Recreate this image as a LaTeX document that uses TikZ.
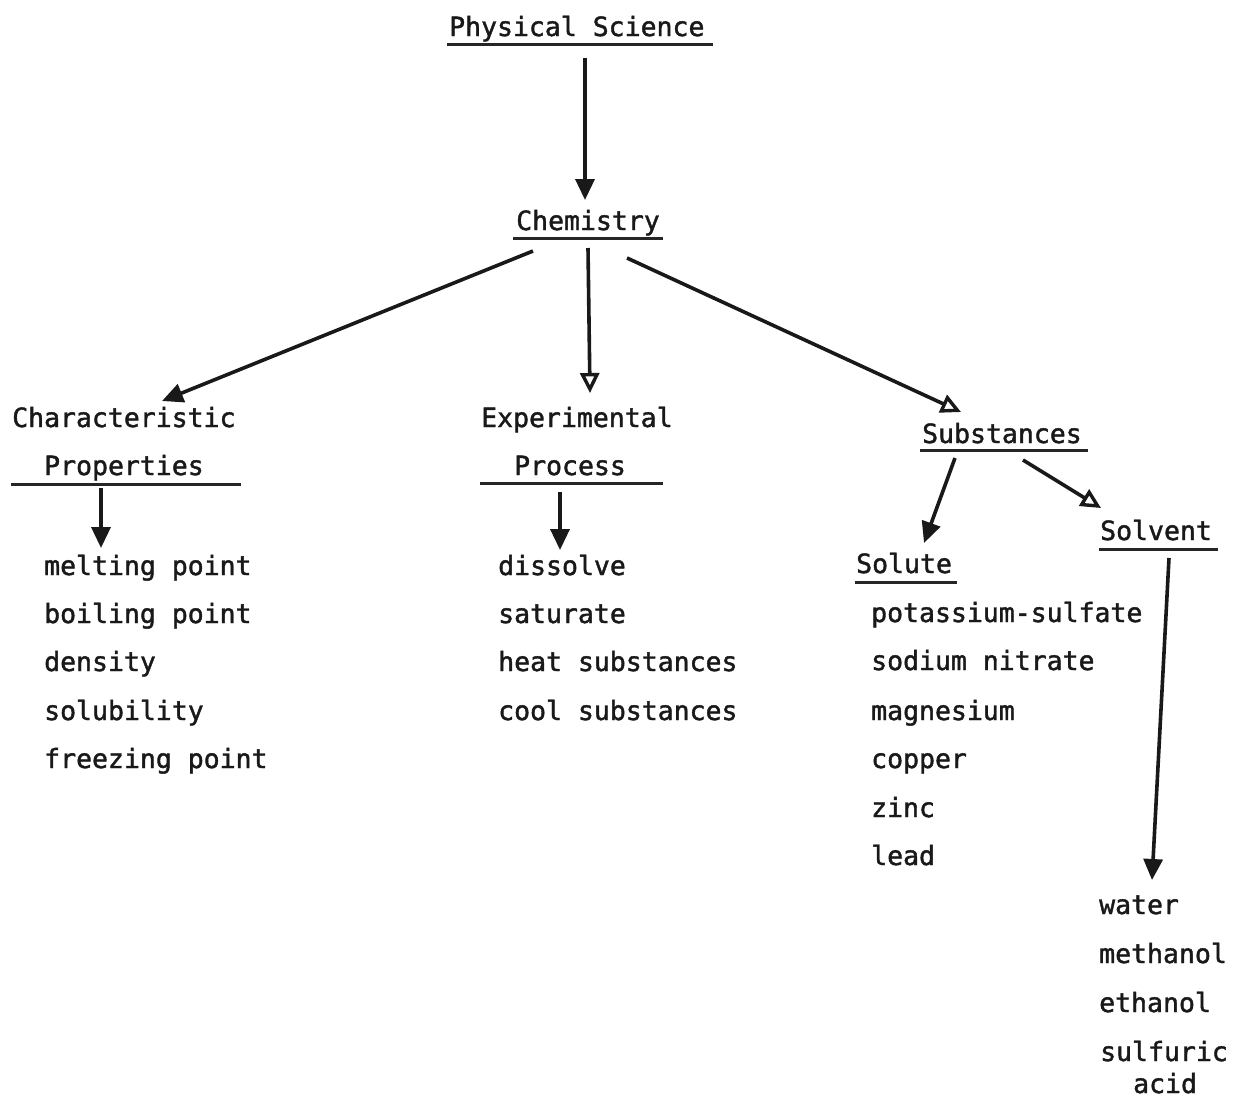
\documentclass[tikz,border=0pt]{standalone}
\usepackage{fontspec}
\newfontfamily\typewriter[FakeBold=1.5]{DejaVu Sans Mono}
\usetikzlibrary{arrows.meta}
\begin{document}
\begin{tikzpicture}[x=1pt,y=-1pt,
  lbl/.style={anchor=base west, inner sep=0pt, text=black!90,
    font=\typewriter\fontsize{26.5}{30}\selectfont},
  uline/.style={line width=3pt, black!85},
  link/.style={line width=3.6pt, black!90, -{Triangle[length=21pt,width=19pt]}},
  hollow/.style={line width=3.6pt, black!90, -{Triangle[open,length=20pt,width=19pt,line width=3.4pt]}}]
\useasboundingbox (0,0) rectangle (1235,1098);

% headings
\node[lbl] (ps)    at (449,36)  {Physical Science};
\node[lbl] (chem)  at (516,230) {Chemistry};
\node[lbl] (char1) at (12,427)  {Characteristic};
\node[lbl] (char2) at (44,475)  {Properties};
\node[lbl] (exp1)  at (481,427) {Experimental};
\node[lbl] (exp2)  at (514,475) {Process};
\node[lbl] (subs)  at (922,443) {Substances};
\node[lbl] (solu)  at (856,573) {Solute};
\node[lbl] (solv)  at (1100,540) {Solvent};

% underlines
\draw[uline] (447,44)  -- (713,44);
\draw[uline] (513,238) -- (663,238);
\draw[uline] (11,484)  -- (241,484);
\draw[uline] (480,483) -- (663,483);
\draw[uline] (920,450) -- (1088,450);
\draw[uline] (855,582) -- (957,582);
\draw[uline] (1099,549) -- (1218,549);

% characteristic properties
\node[lbl] (cp1) at (44,575) {melting point};
\node[lbl] (cp2) at (44,623) {boiling point};
\node[lbl] (cp3) at (44,671) {density};
\node[lbl] (cp4) at (44,720) {solubility};
\node[lbl] (cp5) at (44,768) {freezing point};

% experimental process
\node[lbl] (ep1) at (498,575) {dissolve};
\node[lbl] (ep2) at (498,623) {saturate};
\node[lbl] (ep3) at (498,671) {heat substances};
\node[lbl] (ep4) at (498,720) {cool substances};

% solutes
\node[lbl] (su1) at (871,622) {potassium-sulfate};
\node[lbl] (su2) at (871,670) {sodium nitrate};
\node[lbl] (su3) at (871,720) {magnesium};
\node[lbl] (su4) at (871,768) {copper};
\node[lbl] (su5) at (871,817) {zinc};
\node[lbl] (su6) at (871,865) {lead};

% solvents
\node[lbl] (sv1) at (1099,914)  {water};
\node[lbl] (sv2) at (1099,963)  {methanol};
\node[lbl] (sv3) at (1099,1012) {ethanol};
\node[lbl] (sv4) at (1100,1061) {sulfuric};
\node[lbl] (sv5) at (1133,1093) {acid};

% connector end points
\coordinate (ps-out)    at (585,58);
\coordinate (chem-in)   at (585,200);
\coordinate (chem-l)    at (533,251);
\coordinate (chem-m)    at (588,248);
\coordinate (chem-r)    at (627,258);
\coordinate (char-in)   at (162,401);
\coordinate (exp-in)    at (590,393);
\coordinate (subs-in)   at (961,412);
\coordinate (char-out)  at (101,488);
\coordinate (cp-in)     at (101,548);
\coordinate (exp-out)   at (560,492);
\coordinate (ep-in)     at (560,550);
\coordinate (subs-l)    at (955,458);
\coordinate (solu-in)   at (924,543);
\coordinate (subs-r)    at (1023,460);
\coordinate (solv-in)   at (1101,508);
\coordinate (solv-out)  at (1169,558);
\coordinate (sv-in)     at (1152,880);

% connectors
\draw[link]   (ps-out)   -- (chem-in);
\draw[link]   (chem-l)   -- (char-in);
\draw[hollow] (chem-m)   -- (exp-in);
\draw[hollow] (chem-r)   -- (subs-in);
\draw[link]   (char-out) -- (cp-in);
\draw[link]   (exp-out)  -- (ep-in);
\draw[link]   (subs-l)   -- (solu-in);
\draw[hollow] (subs-r)   -- (solv-in);
\draw[link]   (solv-out) -- (sv-in);
\end{tikzpicture}
\end{document}
